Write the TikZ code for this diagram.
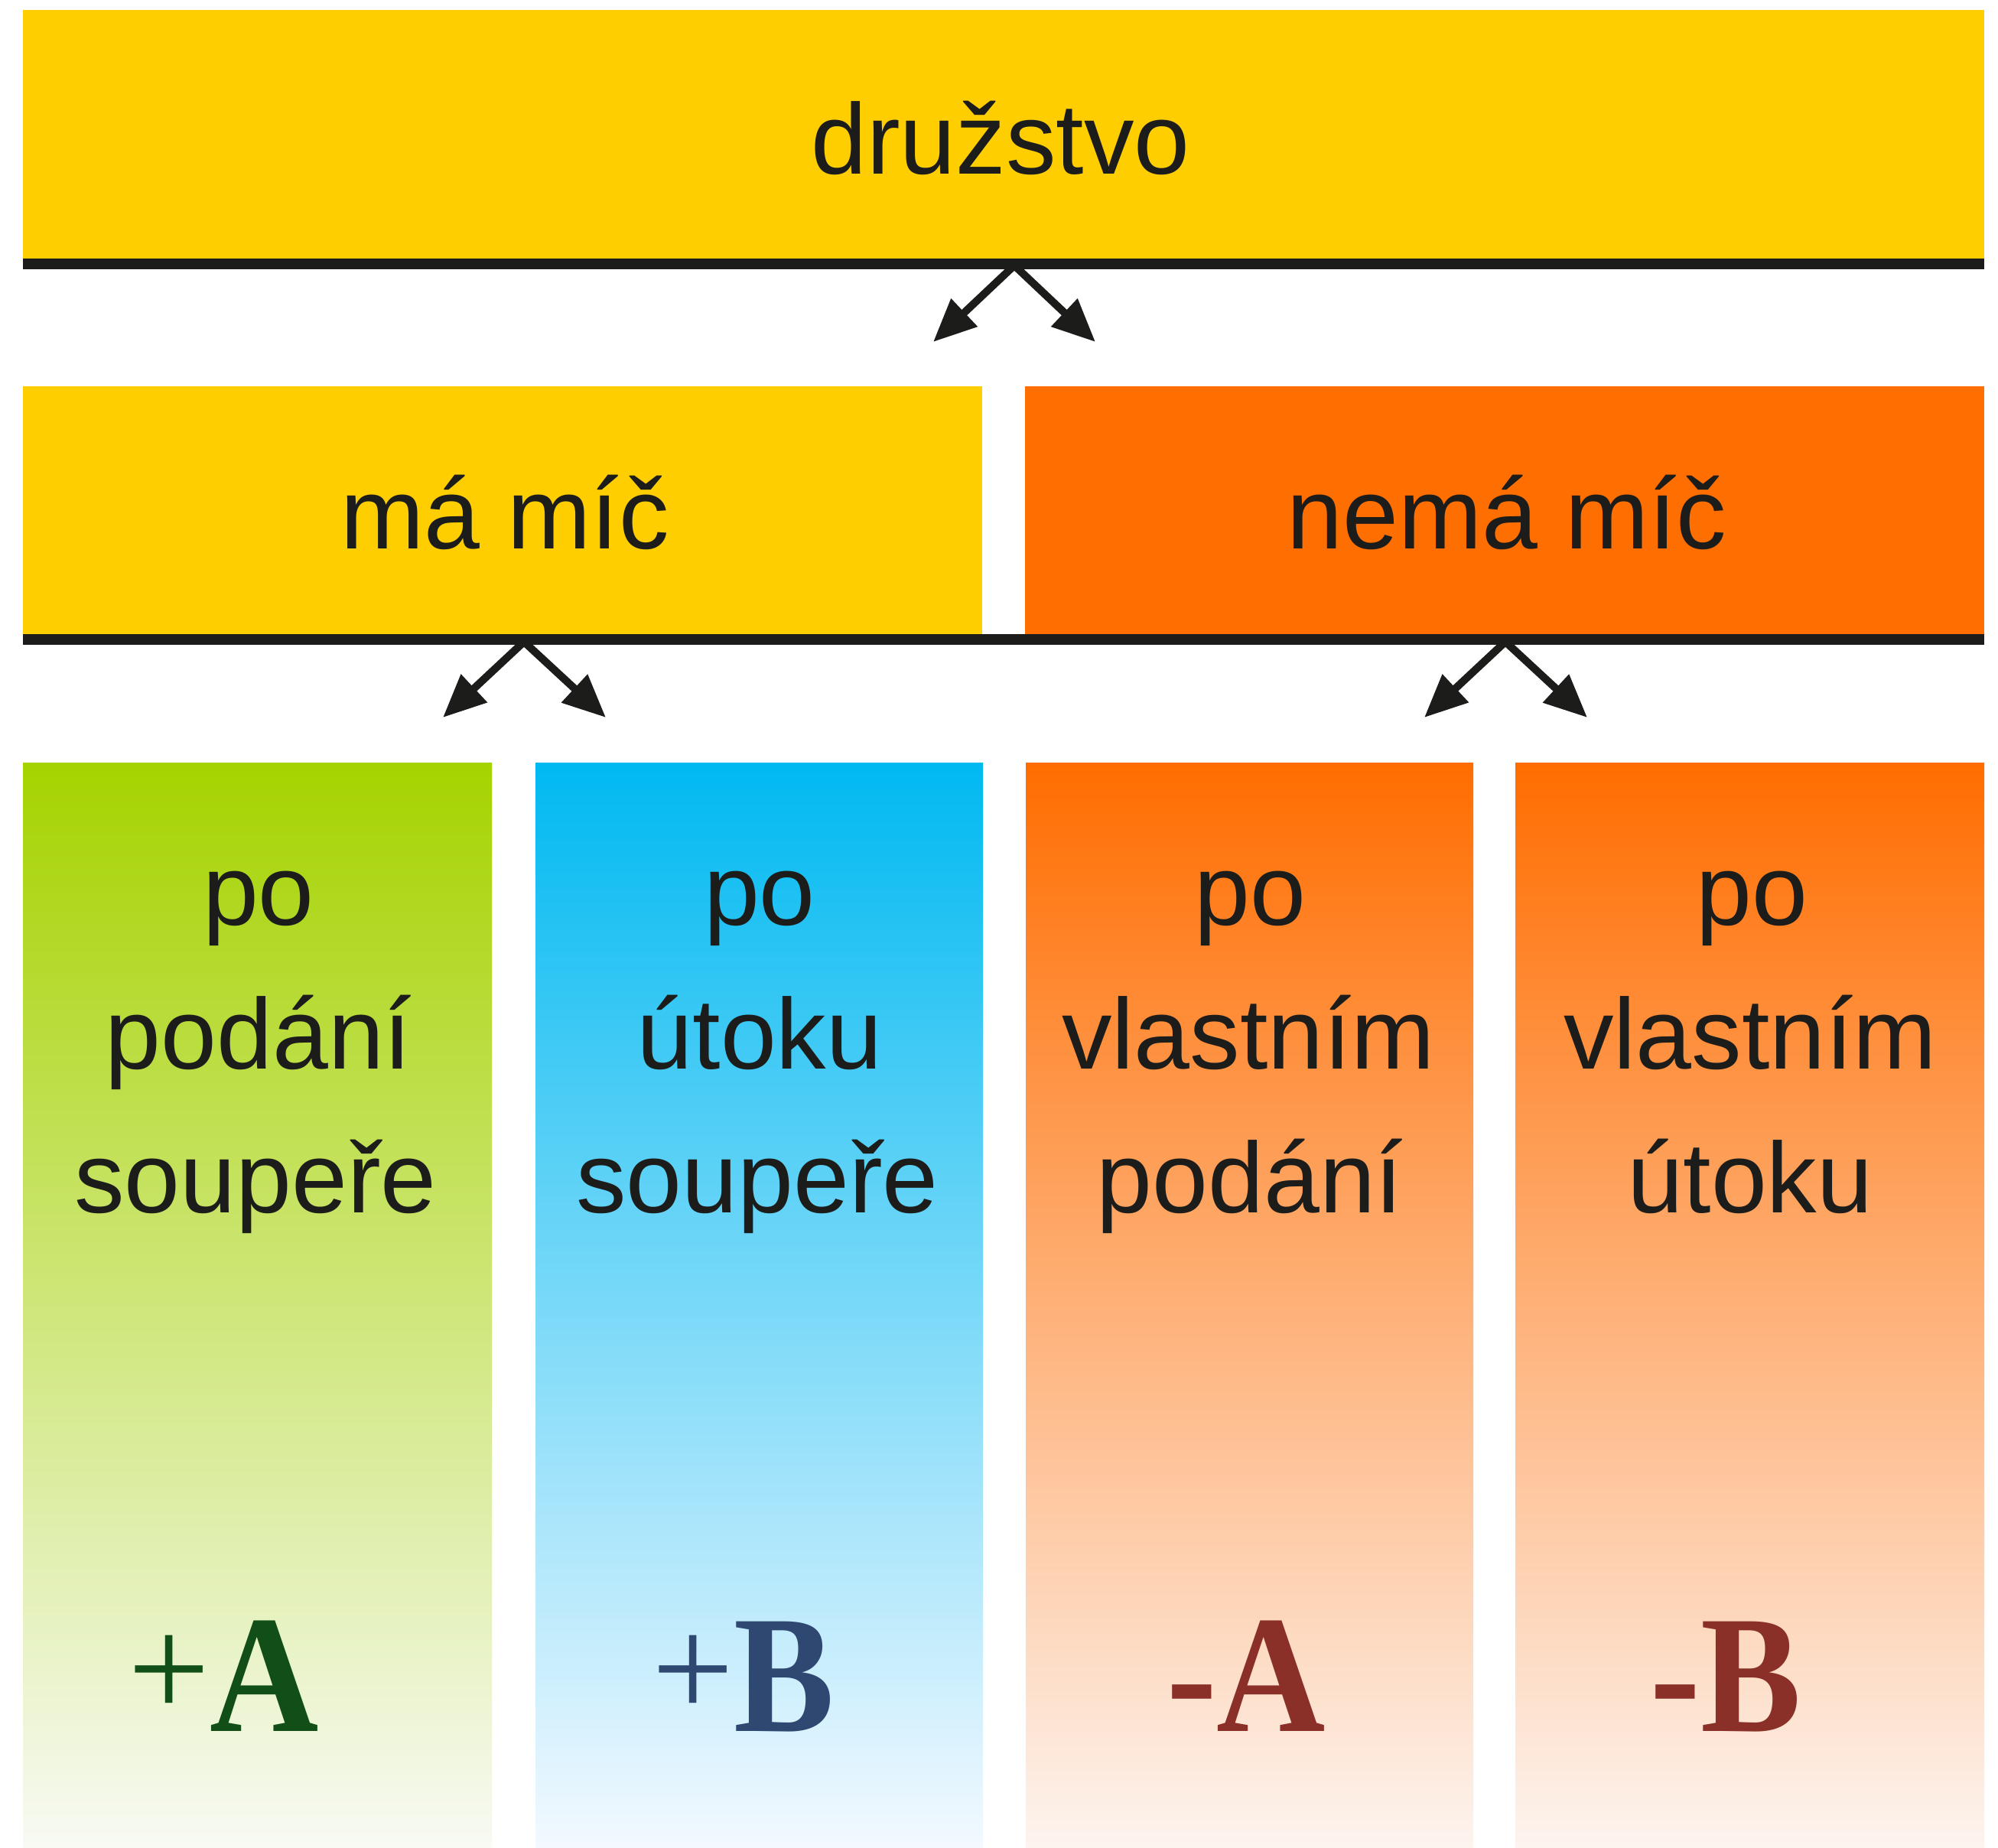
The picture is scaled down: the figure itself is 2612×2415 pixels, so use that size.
\documentclass[tikz,border=0pt]{standalone}
\usepackage{fontspec}
\usepackage{graphicx}
\setmainfont{Liberation Sans}
\newfontfamily\bigserif{Liberation Serif}
\usetikzlibrary{arrows.meta}
\definecolor{ylw}{HTML}{FFCE00}
\definecolor{org}{HTML}{FF6E00}
\definecolor{ink}{HTML}{1C1C1A}
\definecolor{grnTop}{HTML}{A5D300}
\definecolor{grnBot}{HTML}{F8FAF4}
\definecolor{bluTop}{HTML}{00B9F1}
\definecolor{bluBot}{HTML}{F3F9FF}
\definecolor{orgTop}{HTML}{FF6D00}
\definecolor{orgBot}{HTML}{FDF4EF}
\definecolor{colA}{HTML}{124F18}
\definecolor{colB}{HTML}{2F4872}
\definecolor{colR}{HTML}{8A3028}
\newcommand{\thinplus}{\raisebox{18pt}{\mdseries\fontsize{190}{190}\selectfont +}}
\newcommand{\narrow}[1]{\scalebox{0.9}[1]{#1}}
\begin{document}
\begin{tikzpicture}[x=1pt,y=-1pt,
  panel/.style={rectangle,inner sep=0pt,outer sep=0pt,draw=none},
  lbl/.style={anchor=base,inner sep=0pt,text=ink,font=\fontsize{131}{187}\selectfont},
  big/.style={anchor=base,inner sep=0pt,font=\bigserif\bfseries\fontsize{219}{219}\selectfont},
  rule/.style={line width=14pt,draw=ink},
  arr/.style={line width=10pt,draw=ink,-{Triangle[length=56pt,width=48pt]}}]
\useasboundingbox[fill=white] (0,0) rectangle (2612,2415);
% top bar
\node[panel,fill=ylw,minimum width=2564pt,minimum height=325pt] (top) at (1312,175.5) {};
\node[lbl] (tTop) at (1308,227) {družstvo};
\draw[rule] ([yshift=-7pt]top.south west) -- ([yshift=-7pt]top.south east);
% second row
\node[panel,fill=ylw,minimum width=1254pt,minimum height=324pt] (has) at (657,667) {};
\node[panel,fill=org,minimum width=1254pt,minimum height=324pt] (hasnot) at (1967,667) {};
\node[lbl] (tHas) at (660,717) {má míč};
\node[lbl] (tHasnot) at (1970,717) {nemá míč};
\draw[rule] ([yshift=-7pt]has.south west) -- ([yshift=-7pt]hasnot.south east);
% arrows
\coordinate (a0) at (1326,347);
\coordinate (a0l) at (1220,447);
\coordinate (a0r) at (1432,447);
\coordinate (a1) at (685,839);
\coordinate (a1l) at (579,938);
\coordinate (a1r) at (792,938);
\coordinate (a2) at (1968,839);
\coordinate (a2l) at (1862,938);
\coordinate (a2r) at (2075,938);
\draw[arr] (a0) -- (a0l);
\draw[arr] (a0) -- (a0r);
\draw[arr] (a1) -- (a1l);
\draw[arr] (a1) -- (a1r);
\draw[arr] (a2) -- (a2l);
\draw[arr] (a2) -- (a2r);
% columns
\node[panel,top color=grnTop,bottom color=grnBot,minimum width=613pt,minimum height=1418pt] (c1) at (336.5,1706) {};
\node[panel,top color=bluTop,bottom color=bluBot,minimum width=585pt,minimum height=1418pt] (c2) at (992.5,1706) {};
\node[panel,top color=orgTop,bottom color=orgBot,minimum width=585pt,minimum height=1418pt] (c3) at (1633.5,1706) {};
\node[panel,top color=orgTop,bottom color=orgBot,minimum width=613pt,minimum height=1418pt] (c4) at (2287.5,1706) {};
% column texts
\node[lbl] (c1a) at (338,1209) {po};
\node[lbl] (c1b) at (338,1397) {podání};
\node[lbl] (c1c) at (334,1585) {soupeře};
\node[lbl] (c2a) at (993,1209) {po};
\node[lbl] (c2b) at (993,1397) {útoku};
\node[lbl] (c2c) at (990,1585) {soupeře};
\node[lbl] (c3a) at (1634,1209) {po};
\node[lbl] (c3b) at (1632,1397) {vlastním};
\node[lbl] (c3c) at (1634,1585) {podání};
\node[lbl] (c4a) at (2290,1209) {po};
\node[lbl] (c4b) at (2288,1397) {vlastním};
\node[lbl] (c4c) at (2288,1585) {útoku};
% big labels
\node[big,text=colA] (bA) at (292,2263) {\thinplus\narrow{A}};
\node[big,text=colB] (bB) at (972,2263) {\thinplus\narrow{B}};
\node[big,text=colR] (mA) at (1629,2263) {\narrow{-A}};
\node[big,text=colR] (mB) at (2256,2263) {\narrow{-B}};
\end{tikzpicture}
\end{document}
